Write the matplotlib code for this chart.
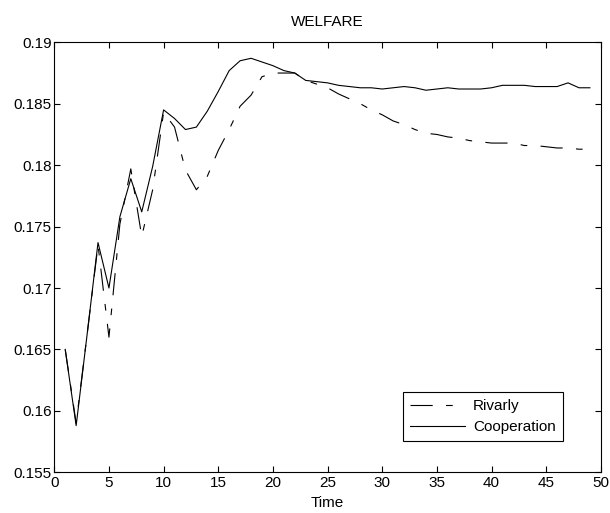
import matplotlib.pyplot as plt
import numpy as np
from matplotlib.ticker import FuncFormatter

plt.rcParams['font.family'] = ['Liberation Sans', 'DejaVu Sans']

time = list(range(1, 50))
rivalry = [0.1650, 0.1590, 0.1662, 0.1735, 0.1660, 0.1752, 0.1797, 0.1742, 0.1780, 0.1843,
           0.1831, 0.1796, 0.1780, 0.1791, 0.1812, 0.1829, 0.1848, 0.1857, 0.1872, 0.1875,
           0.1875, 0.1875, 0.1869, 0.1866, 0.1863, 0.1858, 0.1854, 0.1850, 0.1845, 0.1841,
           0.1836, 0.1833, 0.1829, 0.1826, 0.1825, 0.1823, 0.1822, 0.1820, 0.1819, 0.1818,
           0.1818, 0.1818, 0.1816, 0.1816, 0.1815, 0.1814, 0.1814, 0.1813, 0.1813]
cooperation = [0.1650, 0.1588, 0.1662, 0.1737, 0.1700, 0.1758, 0.1789, 0.1762, 0.1799, 0.1845,
               0.1838, 0.1829, 0.1831, 0.1844, 0.1860, 0.1877, 0.1885, 0.1887, 0.1884, 0.1881,
               0.1877, 0.1875, 0.1869, 0.1868, 0.1867, 0.1865, 0.1864, 0.1863, 0.1863, 0.1862,
               0.1863, 0.1864, 0.1863, 0.1861, 0.1862, 0.1863, 0.1862, 0.1862, 0.1862, 0.1863,
               0.1865, 0.1865, 0.1865, 0.1864, 0.1864, 0.1864, 0.1867, 0.1863, 0.1863]

fig = plt.figure(figsize=(6.10, 5.13), dpi=100)
ax = fig.add_axes([0.089, 0.0793, 0.896, 0.8382])

# matlab style dash-dot, dashes get scaled by linewidth
ax.plot(time, rivalry, color='black', linewidth=0.8, linestyle=(0, (20, 12, 6, 12)), label='Rivarly')
ax.plot(time, cooperation, color='black', linewidth=0.8, linestyle='-', label='Cooperation')

ax.set_xlim(0, 50)
ax.set_ylim(0.155, 0.19)
ax.set_xticks(np.arange(0, 51, 5))
ax.set_yticks(np.arange(0.155, 0.1901, 0.005))
ax.yaxis.set_major_formatter(FuncFormatter(lambda v, p: f"{v:.3f}".rstrip('0')))
ax.tick_params(direction='in', top=True, right=True, length=4, labelsize=11, pad=2)
ax.tick_params(axis='x', pad=3)
for s in ax.spines.values():
    s.set_linewidth(0.8)

ax.set_title('WELFARE', fontsize=11, pad=12)
ax.set_xlabel('Time', fontsize=11, labelpad=4)

leg = ax.legend(loc='lower right', bbox_to_anchor=(0.930, 0.073), fontsize=11,
                fancybox=False, edgecolor='black', framealpha=1, handlelength=3.6,
                borderpad=0.45, labelspacing=0.45, handletextpad=0.5, borderaxespad=0)
leg.get_frame().set_linewidth(0.8)

plt.savefig('out.png', dpi=100)
